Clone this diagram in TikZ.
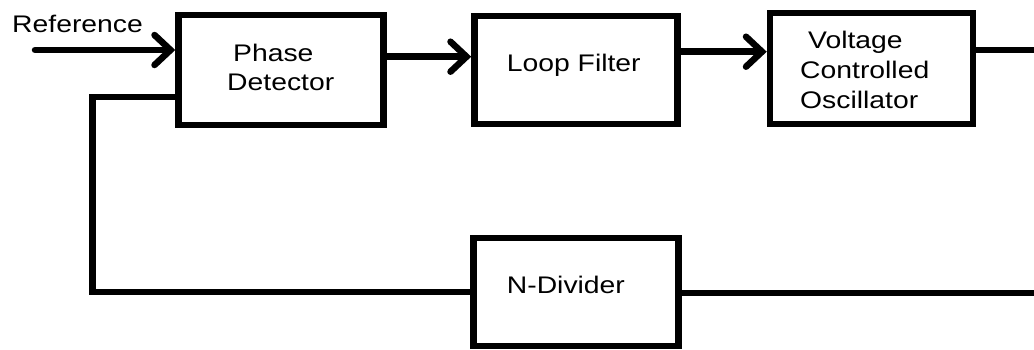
\documentclass[tikz,border=0pt]{standalone}
\usepackage{fontspec}
\newfontfamily\labfont[FakeStretch=1.18]{Liberation Sans}
\usetikzlibrary{arrows.meta}
\begin{document}
\begin{tikzpicture}[x=1pt,y=-1pt,
  blk/.style={draw=black,line width=6.5pt,minimum width=#1,inner sep=0pt,fill=none},
  lab/.style={anchor=base west,inner sep=0pt,font=\labfont\fontsize{24}{28}\selectfont},
  wire/.style={draw=black,line width=6.5pt,line join=miter},
  arr/.style={wire,-{Straight Barb[length=16pt,width=30pt,line cap=round]}}]
\useasboundingbox (0,0) rectangle (1034,349);
% boxes
\node[blk=205pt,minimum height=110pt] (pd) at (281,70) {};
\node[blk=203pt,minimum height=108pt] (lf) at (576,70) {};
\node[blk=203pt,minimum height=111pt] (vco) at (871.5,68.5) {};
\node[blk=205pt,minimum height=108pt] (nd) at (576,292) {};
% labels
\node[lab] (tref) at (12,32) {Reference};
\node[lab] (t1) at (233,61.7) {Phase};
\node[lab] (t2) at (227,90) {Detector};
\node[lab] (t3) at (506.7,71.7) {Loop Filter};
\node[lab] (t4) at (808,48.3) {Voltage};
\node[lab] (t5) at (800,78.3) {Controlled};
\node[lab] (t6) at (800,108.3) {Oscillator};
\node[lab] (t7) at (506.7,293.3) {N-Divider};
% coordinates
\coordinate (in) at (35,50);
\coordinate (out) at (1040,50);
\coordinate (ndout) at (1040,293);
\coordinate (fb1) at (92.5,97);
\coordinate (fb2) at (92.5,292);
% connectors
\draw[arr,line cap=round] (in) -- (pd.west |- in);
\draw[arr] (pd.east |- 0,56.7) -- (lf.west |- 0,56.7);
\draw[arr] (lf.east |- 0,51.7) -- (vco.west |- 0,51.7);
\draw[wire] (vco.east |- out) -- (out);
\draw[wire] (nd.east |- ndout) -- (ndout);
\draw[wire] (pd.west |- fb1) -- (fb1) -- (fb2) -- (nd.west |- fb2);
\end{tikzpicture}
\end{document}
